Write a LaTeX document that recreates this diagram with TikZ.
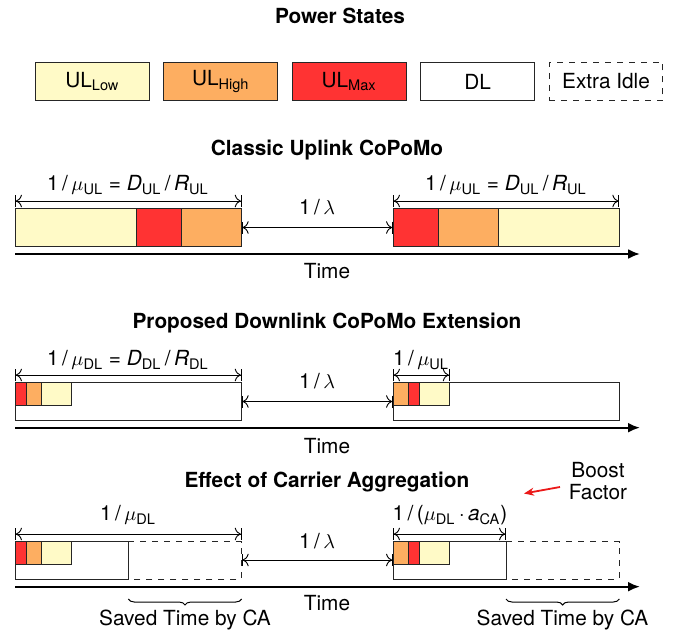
\documentclass[tikz,border=0pt]{standalone}
\usepackage{fontspec}
\setmainfont{TeX Gyre Heros}
\usetikzlibrary{arrows.meta,decorations.pathreplacing}
\definecolor{ullow}{RGB}{255,250,199}
\definecolor{ulhigh}{RGB}{253,174,97}
\definecolor{ulmax}{RGB}{255,51,51}
\definecolor{boostred}{RGB}{235,25,25}
\tikzset{
  every node/.style={font=\fontsize{10.4}{11}\selectfont},
  sectitle/.style={font=\fontsize{10.4}{11}\selectfont\bfseries},
  statebox/.style={draw=black!85, line width=0.5pt},
  idlebox/.style={draw=black!85, dashed, line width=0.5pt},
  legendbox/.style={statebox, anchor=north west, inner sep=0pt,
    minimum width=56.9pt, minimum height=19pt},
  span/.style={{Bar[width=6pt]To[length=3pt]}-{To[length=3pt]Bar[width=6pt]}, line width=0.45pt},
  timeaxis/.style={-{Latex[length=6pt,width=5pt]}, line width=1.1pt},
  savedbrace/.style={decorate, decoration={brace, mirror, amplitude=3pt}, line width=0.5pt},
  boost/.style={-{Stealth[length=5pt,width=4pt]}, boostred, line width=0.9pt}
}
\newcommand{\StateSeg}[5]{%
  % #1 left, #2 right, #3 top, #4 bottom, #5 fill colour
  \filldraw[statebox, fill=#5] (#1,#3) rectangle (#2,#4);
}
\newcommand{\muUL}{1\,/\,$\mu$\textsubscript{UL}}
\newcommand{\muDL}{1\,/\,$\mu$\textsubscript{DL}}
\newcommand{\lam}{1\,/\,$\lambda$}

\begin{document}
\begin{tikzpicture}[x=0.5pt,y=-0.5pt]
  \useasboundingbox (0,0) rectangle (681,637);

  % Power states legend
  \node[sectitle] (pstitle) at (340,16) {Power States};
  \node[legendbox, fill=ullow] (lglow) at (35,62) {UL\textsubscript{Low}};
  \node[legendbox, fill=ulhigh] (lghigh) at (163.4,62) {UL\textsubscript{High}};
  \node[legendbox, fill=ulmax] (lgmax) at (291.8,62) {UL\textsubscript{Max}};
  \node[legendbox, fill=white] (lgdl) at (420.2,62) {DL};
  \node[legendbox, idlebox] (lgidle) at (548.6,62) {Extra Idle};

  % a) classic uplink
  \node[sectitle] (titlea) at (327,150) {Classic Uplink CoPoMo};
  \StateSeg{15}{136}{208}{246}{ullow}
  \StateSeg{136}{181.3}{208}{246}{ulmax}
  \StateSeg{181.3}{241.7}{208}{246}{ulhigh}
  \StateSeg{393}{438.3}{208}{246}{ulmax}
  \StateSeg{438.3}{498.7}{208}{246}{ulhigh}
  \StateSeg{498.7}{619.3}{208}{246}{ullow}
  \coordinate (a1l) at (15,201);
  \coordinate (a1r) at (241.7,201);
  \coordinate (a2l) at (393,201);
  \coordinate (a2r) at (619.3,201);
  \coordinate (alaml) at (241.7,227.5);
  \coordinate (alamr) at (393,227.5);
  \draw[span] (a1l) -- (a1r);
  \draw[span] (a2l) -- (a2r);
  \draw[span] (alaml) -- (alamr);
  \node (amu1) at (128,185) {\muUL\ = \textit{D}\textsubscript{UL}\,/\,\textit{R}\textsubscript{UL}};
  \node (amu2) at (506,185) {\muUL\ = \textit{D}\textsubscript{UL}\,/\,\textit{R}\textsubscript{UL}};
  \node (alam) at (317,207) {\lam};
  \coordinate (ata) at (15,254);
  \coordinate (atb) at (640,254);
  \draw[timeaxis] (ata) -- (atb);
  \node (atime) at (327,271) {Time};

  % b) downlink extension
  \node[sectitle] (titleb) at (327,323) {Proposed Downlink CoPoMo Extension};
  \StateSeg{15}{241.7}{382.3}{420.7}{white}
  \StateSeg{15}{26.7}{382.3}{405}{ulmax}
  \StateSeg{26.7}{41.3}{382.3}{405}{ulhigh}
  \StateSeg{41.3}{71.7}{382.3}{405}{ullow}
  \StateSeg{393}{619.3}{382.3}{420.7}{white}
  \StateSeg{393}{408.3}{382.3}{405}{ulhigh}
  \StateSeg{408.3}{419.3}{382.3}{405}{ulmax}
  \StateSeg{419.3}{449.7}{382.3}{405}{ullow}
  \coordinate (b1l) at (15,375);
  \coordinate (b1r) at (241.7,375);
  \coordinate (b2l) at (393,375);
  \coordinate (b2r) at (449.7,375);
  \coordinate (blaml) at (241.7,401.5);
  \coordinate (blamr) at (393,401.5);
  \draw[span] (b1l) -- (b1r);
  \draw[span] (b2l) -- (b2r);
  \draw[span] (blaml) -- (blamr);
  \node (bmu1) at (128,360) {\muDL\ = \textit{D}\textsubscript{DL}\,/\,\textit{R}\textsubscript{DL}};
  \node (bmu2) at (421,360) {\muUL};
  \node (blam) at (317,381.5) {\lam};
  \coordinate (bta) at (15,427.7);
  \coordinate (btb) at (640,427.7);
  \draw[timeaxis] (bta) -- (btb);
  \node (btime) at (327,446) {Time};

  % c) carrier aggregation
  \node[sectitle] (titlec) at (327,481.7) {Effect of Carrier Aggregation};
  \node[align=center] (boostlbl) at (598,481) {Boost\\Factor};
  \coordinate (boostfrom) at (560,487);
  \coordinate (boostto) at (524,493.5);
  \draw[boost] (boostfrom) -- (boostto);
  \draw[idlebox] (128.3,541.7) -- (241.7,541.7) -- (241.7,579) -- (128.3,579);
  \StateSeg{15}{128.3}{541.7}{579}{white}
  \StateSeg{15}{26.7}{541.7}{564}{ulmax}
  \StateSeg{26.7}{41.3}{541.7}{564}{ulhigh}
  \StateSeg{41.3}{71.7}{541.7}{564}{ullow}
  \draw[idlebox] (506,541.7) -- (619.3,541.7) -- (619.3,579) -- (506,579);
  \StateSeg{393}{506}{541.7}{579}{white}
  \StateSeg{393}{408.3}{541.7}{564}{ulhigh}
  \StateSeg{408.3}{419.3}{541.7}{564}{ulmax}
  \StateSeg{419.3}{449.7}{541.7}{564}{ullow}
  \coordinate (c1l) at (15,534);
  \coordinate (c1r) at (241.7,534);
  \coordinate (c2l) at (393,534);
  \coordinate (c2r) at (506,534);
  \coordinate (claml) at (241.7,560);
  \coordinate (clamr) at (393,560);
  \draw[span] (c1l) -- (c1r);
  \draw[span] (c2l) -- (c2r);
  \draw[span] (claml) -- (clamr);
  \node (cmu1) at (128,515) {\muDL};
  \node (cmu2) at (450,515) {1\,/\,($\mu$\textsubscript{DL}\,$\cdot$\,\textit{a}\textsubscript{CA})};
  \node (clam) at (317,541) {\lam};
  \coordinate (cta) at (15,586.7);
  \coordinate (ctb) at (640,586.7);
  \draw[timeaxis] (cta) -- (ctb);
  \node (ctime) at (327,603) {Time};
  \coordinate (sv1a) at (128.3,599);
  \coordinate (sv1b) at (241.7,599);
  \coordinate (sv2a) at (506,599);
  \coordinate (sv2b) at (619.3,599);
  \draw[savedbrace] (sv1a) -- (sv1b);
  \draw[savedbrace] (sv2a) -- (sv2b);
  \node (saved1) at (185,620) {Saved Time by CA};
  \node (saved2) at (562.5,620) {Saved Time by CA};
\end{tikzpicture}
\end{document}
